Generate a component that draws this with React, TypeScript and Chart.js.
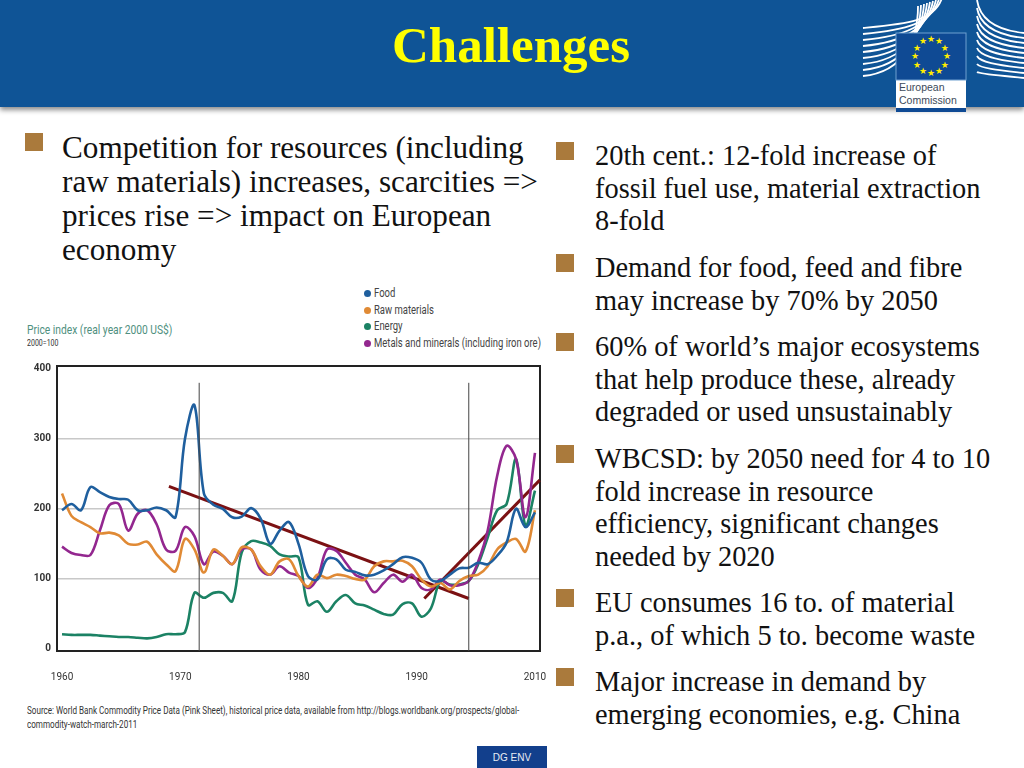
import React, { useEffect, useRef } from "react";
import { Chart, registerables } from "chart.js";

Chart.register(...registerables);

const years = [
    1960, 1961, 1962, 1963, 1964, 1965, 1966, 1967, 1968, 1969, 1970, 1971, 1972, 1973, 1974, 1975, 1976,
    1977, 1978, 1979, 1980, 1981, 1982, 1983, 1984, 1985, 1986, 1987, 1988, 1989, 1990, 1991, 1992, 1993,
    1994, 1995, 1996, 1997, 1998, 1999, 2000, 2001, 2002, 2003, 2004, 2005, 2006, 2007, 2008, 2009, 2010,
];
const food = [
    198, 207, 198, 231, 224, 217, 214, 213, 198, 198, 202, 198, 188, 300, 348, 222, 206, 200, 188, 189, 201,
    186, 150, 169, 181, 150, 104, 99, 128, 128, 113, 110, 105, 106, 112, 121, 131, 130, 123, 99, 97, 106, 115,
    116, 123, 121, 133, 152, 200, 174, 195,
];
const rawMaterials = [
    222, 190, 181, 174, 165, 166, 162, 150, 149, 153, 135, 121, 111, 157, 142, 109, 142, 133, 121, 145, 142,
    118, 106, 125, 128, 104, 89, 106, 101, 106, 104, 100, 99, 118, 125, 125, 126, 118, 99, 89, 94, 85, 97,
    104, 106, 118, 142, 152, 157, 139, 198,
];
const energy = [
    21, 20, 20, 20, 19, 18, 17, 17, 16, 15, 17, 21, 21, 24, 80, 73, 80, 80, 68, 138, 154, 152, 147, 135, 132,
    131, 63, 68, 53, 68, 77, 65, 62, 56, 50, 49, 64, 65, 46, 58, 97, 92, 92, 97, 121, 159, 198, 207, 271, 176,
    226,
];
const metals = [
    146, 137, 134, 134, 169, 205, 207, 169, 193, 198, 178, 142, 140, 174, 161, 121, 139, 133, 121, 142, 142,
    113, 106, 118, 109, 104, 87, 101, 142, 140, 123, 106, 99, 81, 94, 106, 96, 106, 87, 85, 99, 91, 91, 97,
    125, 169, 247, 290, 271, 188, 280,
];
const seriesNames = ["Food", "Raw materials", "Energy", "Metals and minerals (including iron ore)"];
const seriesColors = ["#1f5f9e", "#e08a35", "#1b8264", "#93278f"];

// the printed axis is not linear: labels sit evenly from 1960 to 2010
const tickYears = [1960, 1972.5, 1985, 1997.5, 2010];
const tickLabels = ["1960", "1970", "1980", "1990", "2010"];
const yTicks = [0, 100, 200, 300, 400];
const markerYears = [1974.5, 2003];
const markerTop = 380;
const fallingTrendYears = [1971.3, 2003];
const fallingTrendValues = [232, 72];
const risingTrendYears = [1998.3, 2010.5];
const risingTrendValues = [72, 241];

const leftBullets = [
    ["Competition for resources (including", "raw materials) increases, scarcities =>", "prices rise => impact on European", "economy"],
];
const rightBullets = [
    ["20th cent.: 12-fold increase of", "fossil fuel use, material extraction", "8-fold"],
    ["Demand for food, feed and fibre", "may increase by 70% by 2050"],
    ["60% of world\u2019s major ecosystems", "that help produce these, already", "degraded or used unsustainably"],
    ["WBCSD: by 2050 need for 4 to 10", "fold increase in resource", "efficiency, significant changes", "needed by 2020"],
    ["EU consumes 16 to. of material", "p.a., of which 5 to. become waste"],
    ["Major increase in demand by", "emerging economies, e.g. China"],
];
const rightBulletTops = [139, 251, 330, 442, 586, 665];

const pairs = (xs: number[], ys: number[]) => xs.map((x, i) => ({ x, y: ys[i] }));

const PriceChart: React.FC = () => {
    const chartRef = useRef<HTMLCanvasElement>(null);

    useEffect(() => {
        if (!chartRef.current) return;
        const curve = (label: string, data: number[], color: string) => ({
            label,
            data: pairs(years, data),
            borderColor: color,
            backgroundColor: color,
            borderWidth: 2.6,
            pointRadius: 0,
            tension: 0.35,
        });
        const straight = (xs: number[], ys: number[], color: string, width: number) => ({
            data: pairs(xs, ys),
            borderColor: color,
            borderWidth: width,
            pointRadius: 0,
            tension: 0,
            clip: false as const,
        });
        const chart = new Chart(chartRef.current, {
            type: "line",
            data: {
                datasets: [
                    straight([markerYears[0], markerYears[0]], [-3, markerTop], "#444444", 1),
                    straight([markerYears[1], markerYears[1]], [-3, markerTop], "#444444", 1),
                    curve(seriesNames[0], food, seriesColors[0]),
                    curve(seriesNames[1], rawMaterials, seriesColors[1]),
                    curve(seriesNames[3], metals, seriesColors[3]),
                    curve(seriesNames[2], energy, seriesColors[2]),
                    straight(fallingTrendYears, fallingTrendValues, "#7b1113", 3),
                    straight(risingTrendYears, risingTrendValues, "#7b1113", 3),
                ] as any,
            },
            options: {
                animation: false,
                responsive: false,
                layout: { padding: 0, autoPadding: false },
                plugins: { legend: { display: false }, tooltip: { enabled: false } },
                scales: {
                    x: {
                        type: "linear",
                        min: 1959.47,
                        max: 2010.53,
                        afterBuildTicks: (axis) => {
                            axis.ticks = tickYears.map((value) => ({ value }));
                        },
                        afterFit: (axis) => {
                            axis.height = 50;
                            // keep the 2010 label from pushing the frame inwards
                            axis.paddingLeft = 0;
                            axis.paddingRight = 0;
                        },
                        grid: { display: false },
                        border: { color: "#222222", width: 2 },
                        ticks: {
                            autoSkip: false,
                            maxRotation: 0,
                            padding: 12,
                            color: "#333333",
                            font: { family: "Roboto", size: 10 },
                            callback: (value) => tickLabels[tickYears.indexOf(Number(value))],
                        },
                    },
                    y: {
                        min: -3,
                        max: 404,
                        afterBuildTicks: (axis) => {
                            axis.ticks = yTicks.map((value) => ({ value }));
                        },
                        afterFit: (axis) => {
                            axis.width = 37;
                        },
                        grid: {
                            color: (ctx) => (ctx.tick.value === 400 || ctx.tick.value === 0 ? "rgba(0,0,0,0)" : "#c8c8c8"),
                            lineWidth: 1.5,
                            drawTicks: false,
                        },
                        border: { color: "#222222", width: 2 },
                        ticks: {
                            padding: 6,
                            color: "#333333",
                            font: { family: "Roboto", size: 10, weight: "bold" },
                        },
                    },
                    // top and right edges of the frame
                    x2: {
                        position: "top",
                        afterFit: (axis) => {
                            axis.height = 16;
                        },
                        grid: { display: false },
                        ticks: { display: false },
                        border: { color: "#222222", width: 2 },
                    },
                    y2: {
                        position: "right",
                        afterFit: (axis) => {
                            axis.width = 10;
                        },
                        grid: { display: false },
                        ticks: { display: false },
                        border: { color: "#222222", width: 2 },
                    },
                },
            },
        });
        return () => chart.destroy();
    }, []);

    return <canvas ref={chartRef} width={530} height={351} style={{ position: "absolute", left: 20, top: 350, width: 530, height: 351 }} />;
};

const at = (left: number, top: number): React.CSSProperties => ({ position: "absolute", left, top, whiteSpace: "nowrap" });
// no narrow face is installed, so the figure's small captions are squeezed
const squeezed = (ratio: number): React.CSSProperties => ({ fontFamily: "Roboto, sans-serif", transform: `scaleX(${ratio})`, transformOrigin: "left top" });

const Bullet: React.FC<{ left: number; top: number }> = ({ left, top }) => (
    <div style={{ ...at(left, top), width: 18, height: 18, background: "#aa7a3c" }} />
);

const Logo: React.FC = () => {
    const stars = Array.from({ length: 12 }, (_, i) => i);
    const leftBands = [0, 1, 2, 3, 4, 5, 6, 7, 8];
    const rightBands = [0, 1, 2, 3, 4, 5, 6, 7, 8, 9];
    return (
        <svg width={174} height={114} style={at(850, 0)} viewBox="0 0 174 114">
            {leftBands.map((b) => (
                <path key={b} d={`M13 ${28 + b * 6} C55 ${24 + b * 6} ${84 - b * 2} ${22 + b * 2} ${92 - b * 3} ${-2 + b}`} fill="none" stroke="#ffffff" strokeWidth={1.8} />
            ))}
            {rightBands.map((b) => (
                <path
                    key={b}
                    d={`M127 ${b * 8} C130 ${b * 8 + 20 - b * 2} 146 ${30 + b * 5} 174 ${33 + b * 5}`}
                    fill="none"
                    stroke="#ffffff"
                    strokeWidth={1.8}
                />
            ))}
            <rect x={46} y={33} width={70} height={75} fill="#ffffff" />
            <rect x={46} y={33} width={70} height={47} fill="#0f4a94" stroke="#6f9fd0" />
            <rect x={46} y={108} width={70} height={4} fill="#0f4a94" />
            {stars.map((i) => (
                <text key={i} x={81 + 16 * Math.sin((i * Math.PI) / 6)} y={59 - 17 * Math.cos((i * Math.PI) / 6)} fontSize={9} fill="#ffed00" textAnchor="middle" fontFamily="DejaVu Sans">
                    {"\u2605"}
                </text>
            ))}
            <text x={49} y={91} fontSize={10.5} fill="#3c4a5a" fontFamily="Liberation Sans">European</text>
            <text x={49} y={104} fontSize={10.5} fill="#3c4a5a" fontFamily="Liberation Sans">Commission</text>
        </svg>
    );
};

const App: React.FC = () => {
    const serif = "'Liberation Serif', serif";
    return (
        <div style={{ position: "fixed", inset: 0, overflow: "hidden", background: "#ffffff", fontFamily: serif, color: "#111111" }}>
            <div style={{ position: "absolute", left: 0, top: 0, width: 1024, height: 107, background: "#0f5496", boxShadow: "0 3px 5px rgba(0,0,0,0.45)" }} />
            <div style={{ ...at(0, 17), width: 1022, textAlign: "center", color: "#ffff00", fontWeight: "bold", fontSize: 51, lineHeight: "56px" }}>Challenges</div>
            <Logo />

            <Bullet left={25} top={133} />
            {leftBullets[0].map((line, i) => (
                <div key={line} style={{ ...at(62, 131 + i * 34), fontSize: 31.2, lineHeight: "34px" }}>{line}</div>
            ))}
            {rightBullets.map((lines, b) => (
                <React.Fragment key={b}>
                    <Bullet left={556} top={rightBulletTops[b] + 3} />
                    {lines.map((line, i) => (
                        <div key={line} style={{ ...at(595, rightBulletTops[b] + i * 32.6), fontSize: 28.4, lineHeight: "33px" }}>{line}</div>
                    ))}
                </React.Fragment>
            ))}

            <PriceChart />

            <div style={{ ...at(27, 322), ...squeezed(0.79), fontSize: 13, color: "#4f9080" }}>Price index (real year 2000 US$)</div>
            <div style={{ ...at(27, 338), ...squeezed(0.78), fontSize: 9, color: "#333333" }}>2000=100</div>
            {seriesNames.map((name, i) => (
                <React.Fragment key={name}>
                    <div style={{ ...at(364, 290 + i * 16.6), width: 7, height: 7, borderRadius: "50%", background: seriesColors[i] }} />
                    <div style={{ ...at(374, 286 + i * 16.6), ...squeezed(0.79), fontSize: 12, color: "#444444", lineHeight: "14px" }}>{name}</div>
                </React.Fragment>
            ))}
            <div style={{ ...at(27, 704), ...squeezed(0.736), fontSize: 11, color: "#333333", lineHeight: "14px" }}>
                Source: World Bank Commodity Price Data (Pink Sheet), historical price data, available from http://blogs.worldbank.org/prospects/global-
                <br />
                commodity-watch-march-2011
            </div>
            <div style={{ ...at(477, 746), width: 70, height: 22, background: "#123f8c", color: "#e8ecf4", fontFamily: "'Liberation Sans', sans-serif", fontSize: 10, lineHeight: "24px", textAlign: "center" }}>DG ENV</div>
        </div>
    );
};

export default App;
